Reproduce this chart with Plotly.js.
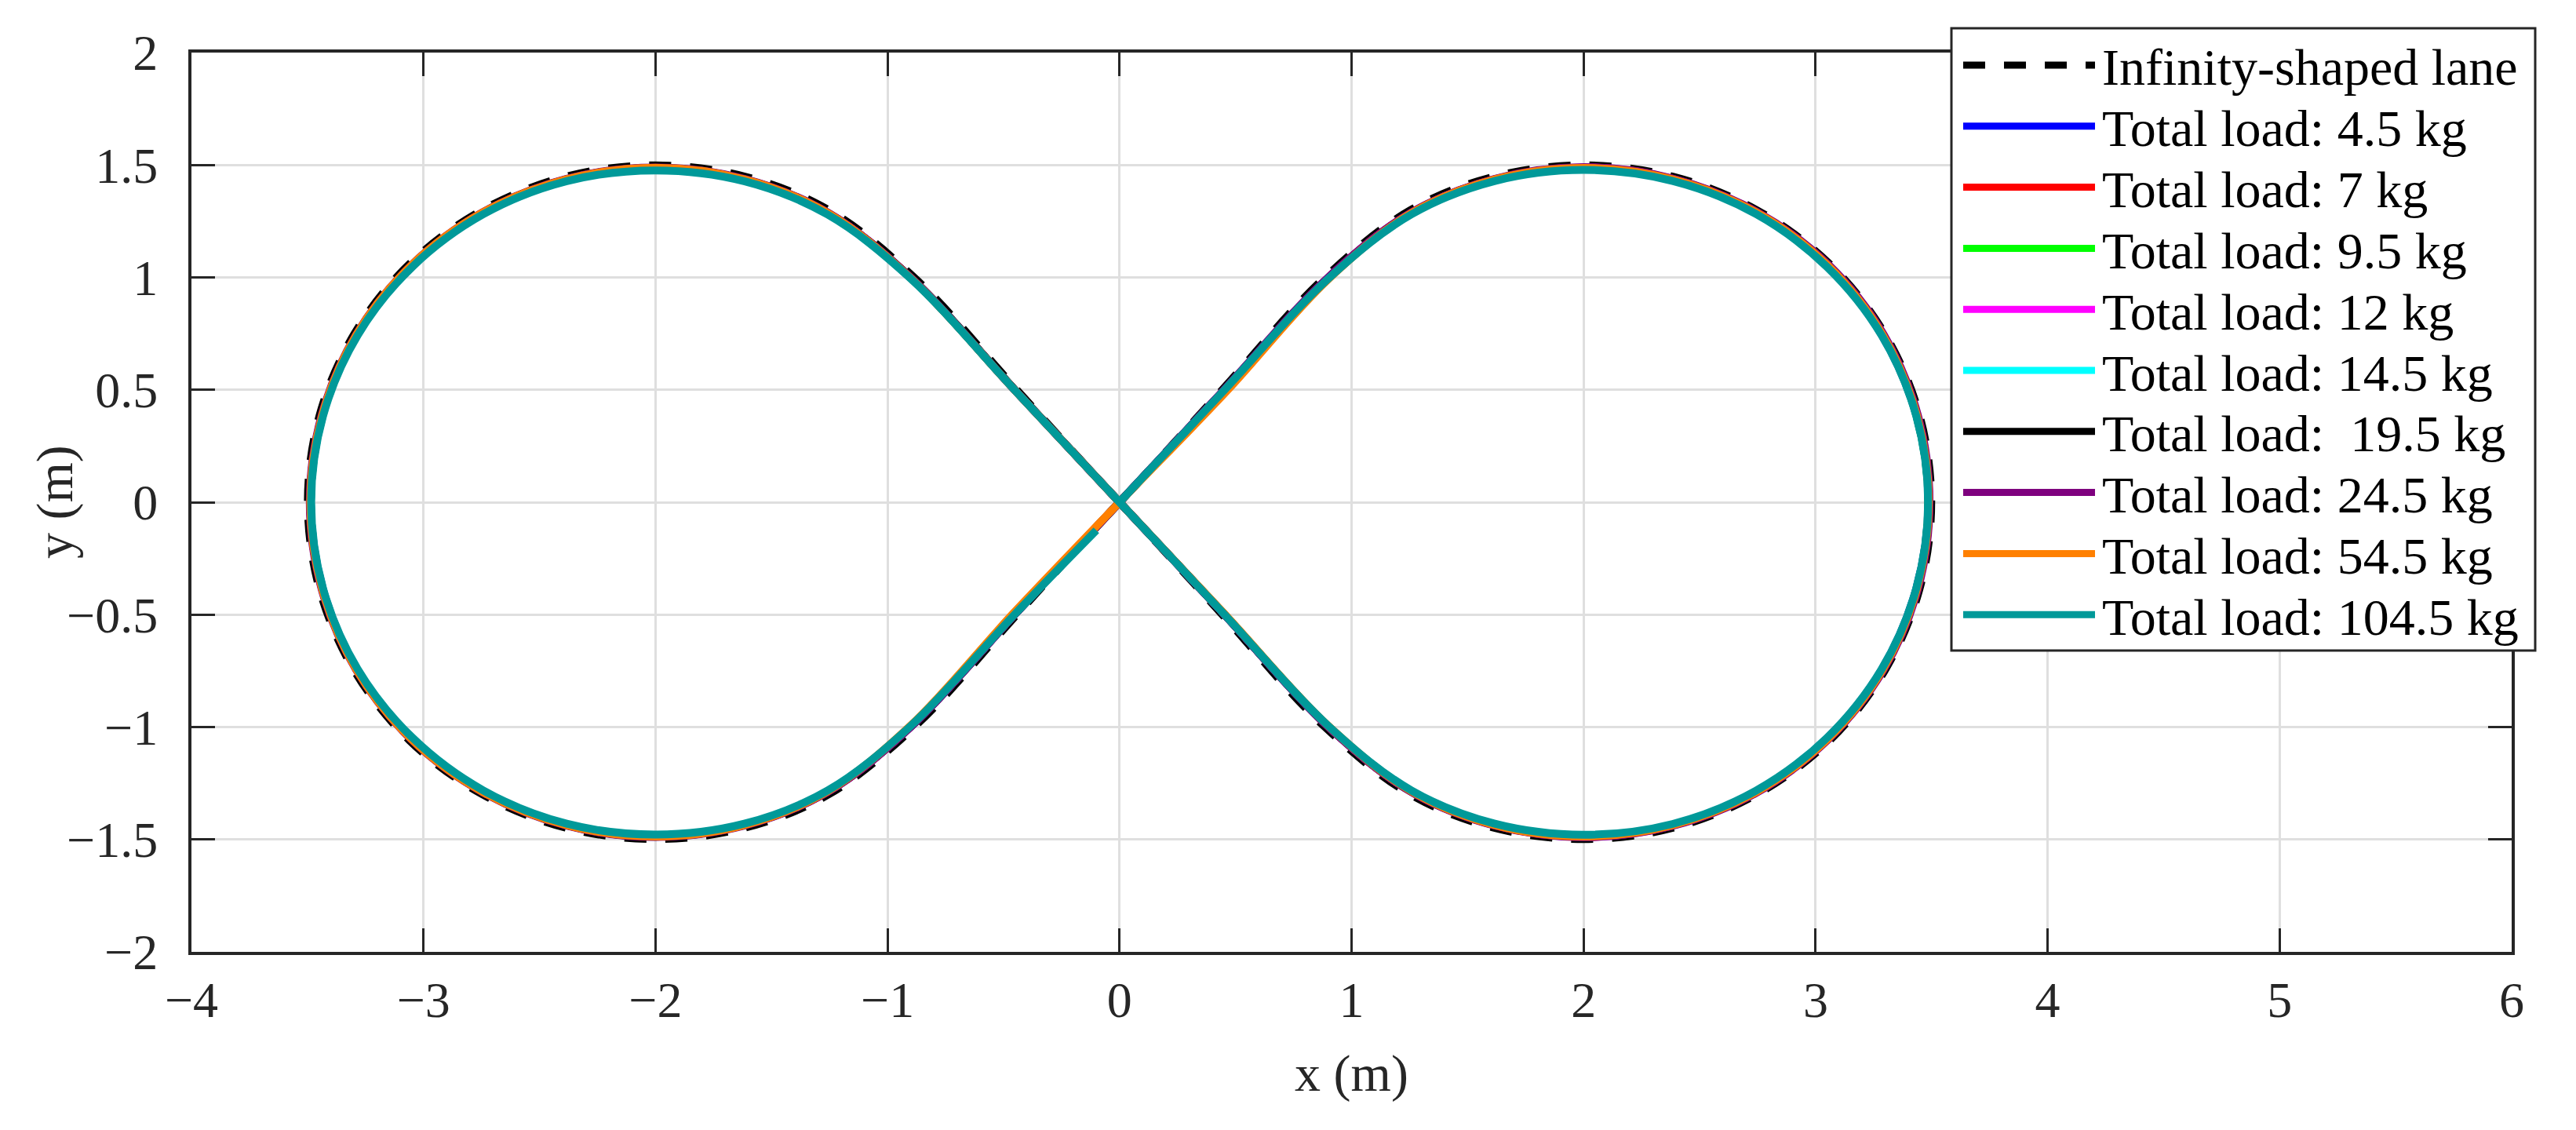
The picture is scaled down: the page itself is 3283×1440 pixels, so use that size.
<!DOCTYPE html>
<html>
<head>
<meta charset="utf-8">
<script src="https://cdn.plot.ly/plotly-3.0.1.min.js"></script>
<style>
  html, body { margin: 0; padding: 0; background: #ffffff; }
  #chart { width: 3283px; height: 1440px; }
</style>
</head>
<body>
<div id="chart"></div>
<script>
// ---------------- DATA ----------------
var xTickVals = [-4, -3, -2, -1, 0, 1, 2, 3, 4, 5, 6];
var xTickText = ['\u22124', '\u22123', '\u22122', '\u22121', '0', '1', '2', '3', '4', '5', '6'];
var yTickVals = [-2, -1.5, -1, -0.5, 0, 0.5, 1, 1.5, 2];
var yTickText = ['\u22122', '\u22121.5', '\u22121', '\u22120.5', '0', '0.5', '1', '1.5', '2'];
var xTitle = 'x (m)';
var yTitle = 'y (m)';

var laneName = 'Infinity-shaped lane';
var laneX = [0, 0.44, 0.875, 1.25, 1.612, 2.0, 2.388, 2.75, 3.061, 3.299, 3.449, 3.5, 3.449, 3.299, 3.061, 2.75, 2.388, 2.0, 1.612, 1.25, 0.875, 0.44, 0, -0.44, -0.875, -1.25, -1.612, -2.0, -2.388, -2.75, -3.061, -3.299, -3.449, -3.5, -3.449, -3.299, -3.061, -2.75, -2.388, -2.0, -1.612, -1.25, -0.875, -0.44, 0];
var laneY = [0, 0.499, 0.992, 1.299, 1.449, 1.5, 1.449, 1.299, 1.061, 0.75, 0.388, 0, -0.388, -0.75, -1.061, -1.299, -1.449, -1.5, -1.449, -1.299, -0.992, -0.499, 0, 0.499, 0.992, 1.299, 1.449, 1.5, 1.449, 1.299, 1.061, 0.75, 0.388, 0, -0.388, -0.75, -1.061, -1.299, -1.449, -1.5, -1.449, -1.299, -0.992, -0.499, 0];

var seriesNames = ['Total load: 4.5 kg', 'Total load: 7 kg', 'Total load: 9.5 kg', 'Total load: 12 kg',
  'Total load: 14.5 kg', 'Total load:  19.5 kg', 'Total load: 24.5 kg', 'Total load: 54.5 kg', 'Total load: 104.5 kg'];

var load4p5X = [0, 0.45, 0.897, 1.257, 1.616, 2.0, 2.384, 2.743, 3.05, 3.286, 3.435, 3.486, 3.434, 3.286, 3.05, 2.743, 2.384, 2.0, 1.616, 1.257, 0.897, 0.45, 0, -0.45, -0.897, -1.257, -1.616, -2.0, -2.384, -2.743, -3.051, -3.287, -3.435, -3.486, -3.434, -3.286, -3.05, -2.743, -2.384, -2.0, -1.616, -1.257, -0.897, -0.45, 0];
var load4p5Y = [0, 0.497, 0.995, 1.286, 1.435, 1.486, 1.434, 1.286, 1.05, 0.743, 0.384, 0, -0.384, -0.743, -1.05, -1.287, -1.435, -1.486, -1.434, -1.286, -0.995, -0.497, 0, 0.497, 0.995, 1.286, 1.434, 1.485, 1.434, 1.286, 1.05, 0.743, 0.384, 0, -0.384, -0.743, -1.05, -1.286, -1.434, -1.485, -1.434, -1.286, -0.995, -0.497, 0];

var load7X = [0, 0.45, 0.897, 1.257, 1.616, 2.0, 2.385, 2.745, 3.052, 3.288, 3.436, 3.487, 3.436, 3.288, 3.052, 2.745, 2.385, 2.0, 1.616, 1.257, 0.897, 0.45, 0, -0.45, -0.897, -1.257, -1.616, -2.0, -2.384, -2.743, -3.05, -3.287, -3.436, -3.487, -3.436, -3.288, -3.052, -2.744, -2.385, -2.0, -1.616, -1.257, -0.897, -0.45, 0];
var load7Y = [0, 0.497, 0.995, 1.287, 1.436, 1.487, 1.436, 1.287, 1.052, 0.744, 0.385, 0, -0.385, -0.744, -1.052, -1.288, -1.436, -1.487, -1.435, -1.287, -0.995, -0.497, 0, 0.497, 0.995, 1.286, 1.435, 1.486, 1.435, 1.287, 1.051, 0.744, 0.385, 0, -0.385, -0.744, -1.052, -1.288, -1.436, -1.487, -1.435, -1.287, -0.995, -0.497, 0];

var load9p5X = [0, 0.45, 0.897, 1.257, 1.616, 2.0, 2.384, 2.744, 3.051, 3.287, 3.435, 3.486, 3.435, 3.287, 3.051, 2.744, 2.384, 2.0, 1.616, 1.257, 0.897, 0.45, 0, -0.45, -0.897, -1.257, -1.616, -2.0, -2.384, -2.744, -3.051, -3.287, -3.435, -3.486, -3.435, -3.287, -3.051, -2.744, -2.384, -2.0, -1.616, -1.257, -0.897, -0.45, 0];
var load9p5Y = [0, 0.497, 0.995, 1.286, 1.435, 1.486, 1.435, 1.287, 1.051, 0.744, 0.384, 0, -0.384, -0.744, -1.051, -1.287, -1.435, -1.486, -1.435, -1.286, -0.995, -0.497, 0, 0.497, 0.995, 1.286, 1.435, 1.486, 1.435, 1.287, 1.051, 0.744, 0.384, 0, -0.384, -0.744, -1.051, -1.287, -1.435, -1.486, -1.435, -1.286, -0.995, -0.497, 0];

var load12X = [0, 0.45, 0.896, 1.256, 1.616, 2.0, 2.386, 2.747, 3.055, 3.291, 3.439, 3.489, 3.438, 3.29, 3.054, 2.747, 2.386, 2.0, 1.616, 1.256, 0.896, 0.45, 0, -0.45, -0.896, -1.256, -1.616, -2.0, -2.385, -2.745, -3.052, -3.288, -3.437, -3.488, -3.437, -3.288, -3.052, -2.745, -2.385, -2.0, -1.616, -1.256, -0.896, -0.45, 0];
var load12Y = [0, 0.497, 0.995, 1.287, 1.437, 1.489, 1.438, 1.29, 1.054, 0.746, 0.386, 0, -0.386, -0.746, -1.054, -1.29, -1.438, -1.489, -1.437, -1.287, -0.995, -0.497, 0, 0.497, 0.995, 1.287, 1.436, 1.487, 1.436, 1.288, 1.052, 0.745, 0.385, 0, -0.385, -0.745, -1.052, -1.288, -1.436, -1.487, -1.436, -1.287, -0.995, -0.497, 0];

var load14p5X = [0, 0.45, 0.897, 1.257, 1.616, 2.0, 2.385, 2.744, 3.051, 3.287, 3.436, 3.487, 3.436, 3.287, 3.051, 2.744, 2.385, 2.0, 1.616, 1.257, 0.897, 0.45, 0, -0.45, -0.897, -1.257, -1.616, -2.0, -2.385, -2.744, -3.051, -3.287, -3.436, -3.487, -3.436, -3.287, -3.051, -2.744, -2.385, -2.0, -1.616, -1.257, -0.897, -0.45, 0];
var load14p5Y = [0, 0.497, 0.995, 1.287, 1.436, 1.487, 1.436, 1.287, 1.051, 0.744, 0.385, 0, -0.385, -0.744, -1.051, -1.287, -1.436, -1.487, -1.436, -1.287, -0.995, -0.497, 0, 0.497, 0.995, 1.287, 1.436, 1.487, 1.436, 1.287, 1.051, 0.744, 0.385, 0, -0.385, -0.744, -1.051, -1.287, -1.436, -1.487, -1.436, -1.287, -0.995, -0.497, 0];

var load19p5X = [0, 0.45, 0.897, 1.257, 1.616, 2.0, 2.384, 2.744, 3.051, 3.287, 3.436, 3.487, 3.436, 3.287, 3.051, 2.744, 2.384, 2.0, 1.616, 1.257, 0.897, 0.45, 0, -0.449, -0.896, -1.257, -1.616, -2.0, -2.385, -2.745, -3.052, -3.288, -3.437, -3.488, -3.437, -3.288, -3.052, -2.745, -2.385, -2.0, -1.616, -1.257, -0.897, -0.45, 0];
var load19p5Y = [0, 0.497, 0.995, 1.286, 1.435, 1.486, 1.436, 1.287, 1.051, 0.744, 0.385, 0, -0.385, -0.744, -1.051, -1.287, -1.436, -1.487, -1.436, -1.287, -0.995, -0.497, 0, 0.498, 0.996, 1.287, 1.436, 1.487, 1.436, 1.288, 1.052, 0.745, 0.385, 0, -0.385, -0.745, -1.052, -1.288, -1.436, -1.488, -1.436, -1.287, -0.995, -0.497, 0];

var load24p5X = [0, 0.449, 0.896, 1.256, 1.616, 2.0, 2.387, 2.748, 3.056, 3.293, 3.441, 3.491, 3.441, 3.292, 3.055, 2.747, 2.386, 2.0, 1.615, 1.256, 0.896, 0.45, 0, -0.45, -0.896, -1.256, -1.615, -2.0, -2.386, -2.746, -3.053, -3.29, -3.439, -3.49, -3.439, -3.29, -3.054, -2.747, -2.386, -2.0, -1.615, -1.256, -0.896, -0.45, 0];
var load24p5Y = [0, 0.499, 0.997, 1.288, 1.438, 1.49, 1.439, 1.291, 1.056, 0.747, 0.386, 0, -0.386, -0.747, -1.055, -1.291, -1.439, -1.49, -1.438, -1.288, -0.996, -0.498, 0, 0.498, 0.996, 1.288, 1.438, 1.489, 1.438, 1.289, 1.054, 0.746, 0.386, 0, -0.386, -0.746, -1.054, -1.289, -1.438, -1.489, -1.438, -1.288, -0.996, -0.498, 0];

var load54p5X = [0, 0.458, 0.9, 1.258, 1.616, 2.0, 2.386, 2.746, 3.053, 3.289, 3.437, 3.488, 3.437, 3.289, 3.053, 2.746, 2.386, 2.0, 1.616, 1.258, 0.899, 0.452, 0, -0.45, -0.898, -1.258, -1.616, -2.0, -2.386, -2.746, -3.053, -3.289, -3.437, -3.488, -3.437, -3.289, -3.053, -2.746, -2.386, -2.0, -1.616, -1.258, -0.9, -0.456, 0];
var load54p5Y = [0, 0.49, 0.992, 1.286, 1.436, 1.487, 1.436, 1.288, 1.053, 0.745, 0.385, 0, -0.385, -0.745, -1.053, -1.288, -1.436, -1.487, -1.436, -1.286, -0.994, -0.496, 0, 0.497, 0.995, 1.287, 1.436, 1.488, 1.436, 1.288, 1.053, 0.745, 0.385, 0, -0.385, -0.745, -1.053, -1.288, -1.436, -1.487, -1.436, -1.286, -0.993, -0.492, 0];

var load104p5X = [0, 0.45, 0.9, 1.259, 1.618, 2.0, 2.384, 2.743, 3.049, 3.285, 3.434, 3.485, 3.434, 3.285, 3.049, 2.743, 2.384, 2.0, 1.617, 1.258, 0.9, 0.45, 0, -0.45, -0.9, -1.259, -1.618, -2.0, -2.383, -2.742, -3.048, -3.284, -3.433, -3.484, -3.433, -3.284, -3.048, -2.742, -2.383, -2.0, -1.617, -1.258, -0.9, -0.45, -0.1];
var load104p5Y = [0, 0.497, 0.995, 1.281, 1.429, 1.478, 1.429, 1.282, 1.047, 0.742, 0.383, 0, -0.383, -0.742, -1.048, -1.283, -1.431, -1.479, -1.43, -1.282, -0.995, -0.497, 0, 0.497, 0.995, 1.28, 1.428, 1.476, 1.428, 1.281, 1.047, 0.742, 0.383, 0, -0.383, -0.742, -1.047, -1.282, -1.43, -1.478, -1.43, -1.282, -0.995, -0.497, -0.125];

var seriesX = [load4p5X, load7X, load9p5X, load12X, load14p5X, load19p5X, load24p5X, load54p5X, load104p5X];
var seriesY = [load4p5Y, load7Y, load9p5Y, load12Y, load14p5Y, load19p5Y, load24p5Y, load54p5Y, load104p5Y];

// ---------------- STYLE ----------------
var seriesColors = ['#0000FF', '#FF0000', '#00FF00', '#FF00FF', '#00FFFF', '#000000', '#7E007E', '#FF8000', '#009999'];
var FONT = 'Liberation Serif, Times New Roman, serif';
var TXT = '#262626';
var PLOT_L = 244, PLOT_R = 3201, PLOT_T = 67, PLOT_B = 1213;
var W = PLOT_R - PLOT_L, H = PLOT_B - PLOT_T;
function pxX(px) { return (px - PLOT_L) / W; }
function pxY(py) { return (PLOT_B - py) / H; }

var LINE_W = 10;
var LANE_W = 9;
var LANE_DASH = '28px,24px';

var traces = [];
traces.push({
  x: laneX, y: laneY, type: 'scatter', mode: 'lines', name: laneName,
  line: { color: '#000000', width: LANE_W, dash: LANE_DASH, shape: 'spline', smoothing: 1 },
  showlegend: false, hoverinfo: 'skip'
});
for (var i = 0; i < seriesNames.length; i++) {
  traces.push({
    x: seriesX[i], y: seriesY[i], type: 'scatter', mode: 'lines', name: seriesNames[i],
    line: { color: seriesColors[i], width: LINE_W, shape: 'spline', smoothing: 1 },
    showlegend: false, hoverinfo: 'skip'
  });
}

// ---------------- CUSTOM LEGEND ----------------
var legBox = { x0: 2487, x1: 3231, y0: 36, y1: 829 };
var rowY0 = 83, rowStep = 77.8;
var sampleX0 = 2502, sampleX1 = 2670, textX = 2678;
var shapes = [];
var annotations = [];
shapes.push({
  type: 'rect', xref: 'paper', yref: 'paper', layer: 'above',
  x0: pxX(legBox.x0), x1: pxX(legBox.x1), y0: pxY(legBox.y1), y1: pxY(legBox.y0),
  fillcolor: '#ffffff', line: { color: TXT, width: 3 }
});
var legNames = [laneName].concat(seriesNames);
var legColors = ['#000000'].concat(seriesColors);
for (var k = 0; k < legNames.length; k++) {
  var ry = rowY0 + rowStep * k;
  shapes.push({
    type: 'line', xref: 'paper', yref: 'paper', layer: 'above',
    x0: pxX(sampleX0), x1: pxX(sampleX1), y0: pxY(ry), y1: pxY(ry),
    line: { color: legColors[k], width: k === 0 ? LANE_W : 9, dash: k === 0 ? LANE_DASH : 'solid' }
  });
  annotations.push({
    xref: 'paper', yref: 'paper', x: pxX(textX), y: pxY(ry + 3),
    xanchor: 'left', yanchor: 'middle', showarrow: false, borderpad: 0,
    text: legNames[k].replace(/  /g, ' &nbsp;'),
    font: { family: FONT, size: 66, color: '#000000' }
  });
}

// y-axis title placed as a rotated annotation (exact position)
annotations.push({
  xref: 'paper', yref: 'paper', x: pxX(70), y: pxY(640),
  xanchor: 'center', yanchor: 'middle', showarrow: false, textangle: -90,
  text: yTitle, font: { family: FONT, size: 66, color: TXT }
});

var axisCommon = {
  showgrid: true, gridcolor: '#dfdfdf', gridwidth: 3,
  zeroline: false, showline: true, linecolor: TXT, linewidth: 4,
  mirror: 'ticks', ticks: 'inside', ticklen: 30, tickwidth: 3, tickcolor: TXT,
  tickfont: { family: FONT, size: 64, color: TXT },
  tickmode: 'array', automargin: false
};

var layout = {
  width: 3283, height: 1440,
  paper_bgcolor: '#ffffff', plot_bgcolor: '#ffffff',
  margin: { l: PLOT_L, r: 3283 - PLOT_R, t: PLOT_T, b: 1440 - PLOT_B, pad: 0 },
  showlegend: false,
  xaxis: Object.assign({}, axisCommon, {
    range: [-4, 6], tickvals: xTickVals, ticktext: xTickText,
    ticklabelstandoff: 2,
    title: { text: xTitle, font: { family: FONT, size: 66, color: TXT }, standoff: 36 }
  }),
  yaxis: Object.assign({}, axisCommon, {
    range: [-2, 2], tickvals: yTickVals, ticktext: yTickText,
    ticklabelstandoff: 26
  }),
  shapes: shapes,
  annotations: annotations
};

Plotly.newPlot('chart', traces, layout, { staticPlot: true, displayModeBar: false });
</script>
</body>
</html>
